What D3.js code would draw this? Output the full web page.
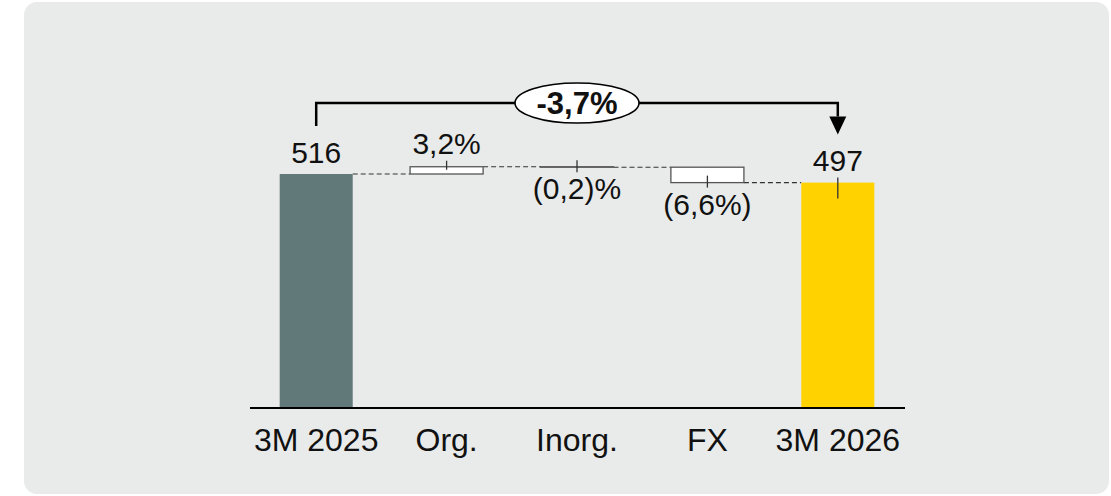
<!DOCTYPE html>
<html>
<head>
<meta charset="utf-8">
<script src="https://cdn.jsdelivr.net/npm/d3@7"></script>
<style>
  body { margin: 0; background: #fff; }
  text { font-family: "Liberation Sans", Arial, sans-serif; fill: #111; }
</style>
</head>
<body>
<svg width="1111" height="496"></svg>
<script>
// data
var categories = ["3M 2025", "Org.", "Inorg.", "FX", "3M 2026"];
var startValue = 516;
var deltas = [16, -1, -34];
var endValue = 497;
var valueLabels = ["516", "3,2%", "(0,2)%", "(6,6%)", "497"];
var changeLabel = "-3,7%";

var svg = d3.select("svg");

// panel background
svg.append("rect")
  .attr("x", 24).attr("y", 2)
  .attr("width", 1085).attr("height", 492)
  .attr("rx", 13)
  .attr("fill", "#e9ebea");

var baseY = 408;

var x = d3.scaleBand()
  .domain(categories)
  .range([251, 903])
  .paddingInner(0.44)
  .paddingOuter(0.22);

var y = d3.scaleLinear()
  .domain([0, 516])
  .range([baseY, 174]);

// build waterfall steps
var steps = [];
var run = startValue;
steps.push({ cat: categories[0], y0: 0, y1: startValue, kind: "start" });
deltas.forEach(function(d, i) {
  steps.push({ cat: categories[i + 1], y0: run, y1: run + d, kind: "delta" });
  run += d;
});
steps.push({ cat: categories[4], y0: 0, y1: endValue, kind: "end" });

var g = svg.append("g");

// dashed connectors between steps
steps.slice(0, -1).forEach(function(s, i) {
  var next = steps[i + 1];
  g.append("line")
    .attr("x1", x(s.cat) + x.bandwidth())
    .attr("x2", x(next.cat))
    .attr("y1", y(s.y1))
    .attr("y2", y(s.y1))
    .attr("stroke", "#333")
    .attr("stroke-width", 1.1)
    .attr("stroke-dasharray", "5,3");
});

// bars
g.selectAll(".bar")
  .data(steps)
  .enter().append("rect")
  .attr("class", "bar")
  .attr("x", function(d) { return x(d.cat); })
  .attr("width", x.bandwidth())
  .attr("y", function(d) { return y(Math.max(d.y0, d.y1)); })
  .attr("height", function(d) { return Math.max(0.5, Math.abs(y(d.y0) - y(d.y1))); })
  .attr("fill", function(d) {
    if (d.kind === "start") return "#627979";
    if (d.kind === "end") return "#ffd200";
    return "#fff";
  })
  .attr("stroke", function(d) { return d.kind === "delta" ? "#555" : "none"; })
  .attr("stroke-width", 1.3);

// leaders + value labels
steps.forEach(function(s, i) {
  var cx = x(s.cat) + x.bandwidth() / 2;
  var top = y(Math.max(s.y0, s.y1));
  var bot = y(Math.min(s.y0, s.y1));
  var up = s.kind !== "delta" || s.y1 >= s.y0;
  var ly1, ly2, ty;
  if (s.kind === "start") {
    ty = top - 11;
  } else if (s.kind === "end") {
    ly1 = top - 5; ly2 = top + 16; ty = top - 12;
  } else if (up) {
    ly1 = top - 6; ly2 = top + 3; ty = top - 13;
  } else {
    ly1 = bot - 7; ly2 = bot + 5; ty = bot + 32;
  }
  if (ly1 !== undefined) {
    g.append("line")
      .attr("x1", cx).attr("x2", cx)
      .attr("y1", ly1).attr("y2", ly2)
      .attr("stroke", "#333")
      .attr("stroke-width", 1.3);
  }
  g.append("text")
    .attr("x", cx)
    .attr("y", ty)
    .attr("text-anchor", "middle")
    .style("font-size", "30px")
    .text(valueLabels[i]);
});

// x axis
var xAxis = g.append("g")
  .attr("transform", "translate(0," + baseY + ")")
  .call(d3.axisBottom(x).tickSize(0).tickPadding(20));
xAxis.select(".domain")
  .attr("d", "M250,0H905")
  .attr("stroke", "#000")
  .attr("stroke-width", 2.2);
xAxis.selectAll("text")
  .style("font-size", "32px")
  .attr("fill", "#111")
  .attr("dy", "0.71em");

// change bracket
var x0 = x(categories[0]) + x.bandwidth() / 2;
var x1 = x(categories[4]) + x.bandwidth() / 2;
var bracketY = 103;
g.append("path")
  .attr("d", "M" + x0 + "," + (y(startValue) - 48) + "V" + bracketY + "H" + x1 + "V" + (y(endValue) - 66))
  .attr("fill", "none")
  .attr("stroke", "#000")
  .attr("stroke-width", 2.5);
g.append("path")
  .attr("d", "M" + (x1 - 8.5) + "," + (y(endValue) - 66) + "L" + (x1 + 8.5) + "," + (y(endValue) - 66) +
    "L" + x1 + "," + (y(endValue) - 48) + "Z")
  .attr("fill", "#000");

var ex = (x0 + x1) / 2;
g.append("ellipse")
  .attr("cx", ex).attr("cy", bracketY)
  .attr("rx", 62).attr("ry", 20)
  .attr("fill", "#fff")
  .attr("stroke", "#000")
  .attr("stroke-width", 1.6);
g.append("text")
  .attr("x", ex)
  .attr("y", bracketY + 11)
  .attr("text-anchor", "middle")
  .style("font-size", "31px")
  .style("font-weight", "bold")
  .text(changeLabel);
</script>
</body>
</html>
